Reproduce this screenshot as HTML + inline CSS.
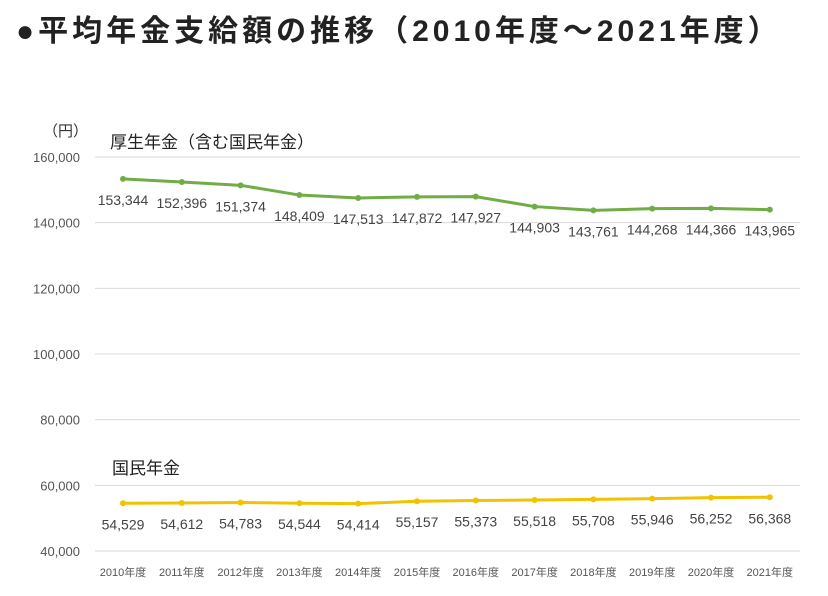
<!DOCTYPE html>
<html><head><meta charset="utf-8"><style>
body{margin:0;background:#fff;width:828px;height:596px;overflow:hidden;font-family:"Liberation Sans","Noto Sans CJK JP",sans-serif}
#title{position:absolute;left:16px;top:6px;font-size:30px;font-weight:bold;color:#222;letter-spacing:4px;white-space:nowrap}
svg{position:absolute;left:0;top:0}
svg text{font-family:"Liberation Sans","Noto Sans CJK JP",sans-serif}
</style></head><body>
<div id="title">●平均年金支給額の推移（2010年度～2021年度）</div>
<svg id="chart" width="828" height="596"></svg>
<script>
const categories=["2010年度","2011年度","2012年度","2013年度","2014年度","2015年度","2016年度","2017年度","2018年度","2019年度","2020年度","2021年度"];
const kosei=[153344,152396,151374,148409,147513,147872,147927,144903,143761,144268,144366,143965];
const kokumin=[54529,54612,54783,54544,54414,55157,55373,55518,55708,55946,56252,56368];
const yTicks=[40000,60000,80000,100000,120000,140000,160000];
const NS="http://www.w3.org/2000/svg";
const svg=document.getElementById('chart');
function y(v){return 551-(v-40000)*(394/120000);}
function x(i){return 123+i*58.8;}
function el(t,a,txt){const e=document.createElementNS(NS,t);for(const k in a)e.setAttribute(k,a[k]);if(txt!=null)e.textContent=txt;svg.appendChild(e);return e;}
yTicks.forEach(v=>{
 const l=el('line',{x1:95,x2:800,y1:y(v),y2:y(v),stroke:'#d9d9d9','stroke-width':1});
 
 
 const t=el('text',{x:80,y:y(v)+5,'text-anchor':'end','font-size':13,fill:'#555'},v.toLocaleString('en-US'));
 
 
});
const u=el('text',{x:43,y:136,'font-size':15,fill:'#333'},'（円）');


categories.forEach((c,i)=>{
 const t=el('text',{x:x(i),y:576,'text-anchor':'middle','font-size':11,fill:'#555'},c);
 
 
});
function series(vals,color,name){
 const p=el('polyline',{points:vals.map((v,i)=>x(i)+','+y(v)).join(' '),fill:'none',stroke:color,'stroke-width':3});
 
 
 vals.forEach((v,i)=>{
  const c=el('circle',{cx:x(i),cy:y(v),r:3,fill:color});
  
  
  const t=el('text',{x:x(i),y:y(v)+26,'text-anchor':'middle','font-size':14,fill:'#444'},v.toLocaleString('en-US'));
  
  
 });
}
series(kosei,'#70ad47','kosei');
series(kokumin,'#f2c200','kokumin');
const l1=el('text',{x:110,y:148,'font-size':17,fill:'#222'},'厚生年金（含む国民年金）');


const l2=el('text',{x:112,y:474,'font-size':17,fill:'#222'},'国民年金');


</script>
</body></html>
